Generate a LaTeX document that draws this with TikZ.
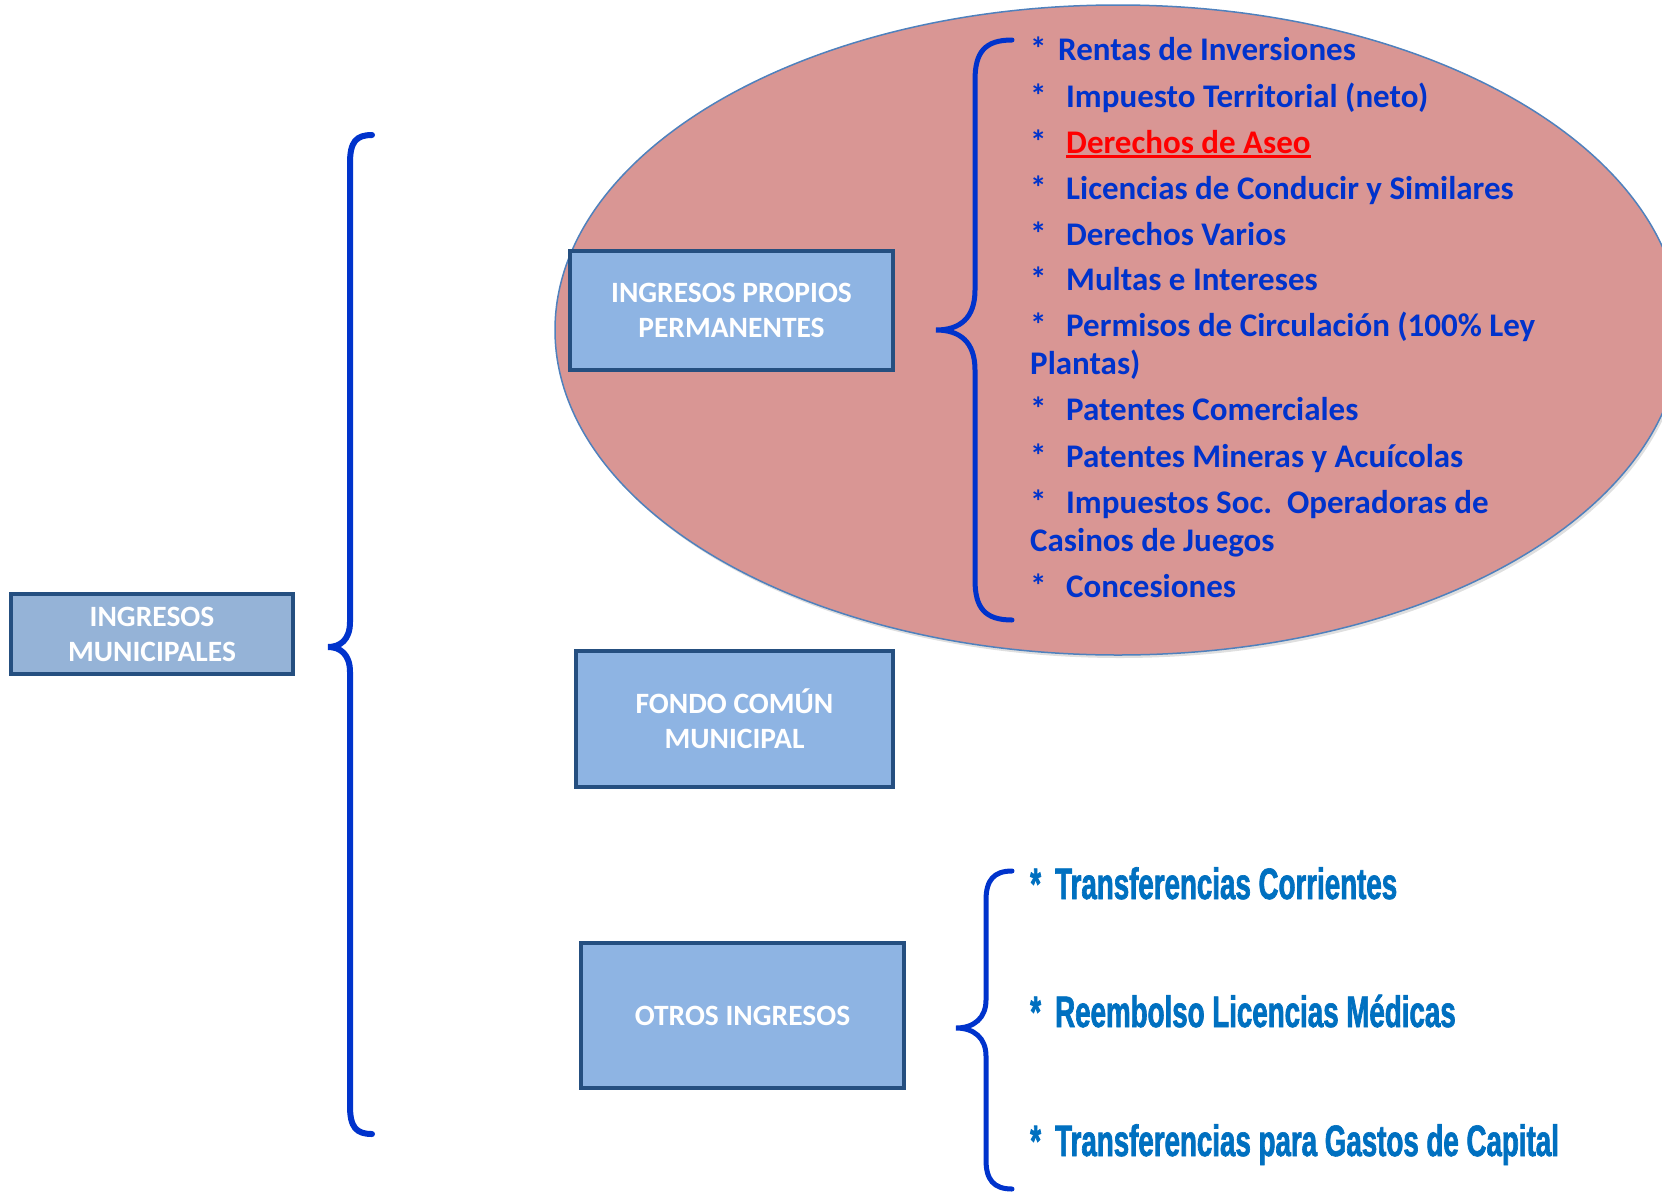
\documentclass[tikz,border=0pt]{standalone}
\usepackage{fontspec}
\setmainfont{Carlito}
\newfontfamily\angosta[FakeStretch=0.63, FakeBold=1.5]{Liberation Sans}
\usetikzlibrary{shadows}
\definecolor{cajafondo}{HTML}{8EB4E3}
\definecolor{cajagris}{HTML}{95B3D7}
\definecolor{cajaborde}{HTML}{254F80}
\definecolor{elipse}{HTML}{D99694}
\definecolor{elipseborde}{HTML}{4F81BD}
\definecolor{azul}{HTML}{0033CC}
\definecolor{azulclaro}{HTML}{0070C0}
\newcommand{\vineta}{\makebox[36pt][l]{*}}
\newcommand{\subrayado}[1]{\setbox0\hbox{#1}\rlap{\rule[-4.5pt]{\wd0}{2.6pt}}\box0}
\tikzset{
    caja/.style={draw=cajaborde, line width=3.5pt, fill=cajafondo, text=white, align=center,
        font=\fontsize{29.5}{35}\selectfont\bfseries},
    llave/.style={draw=azul, line width=5pt, line cap=round},
    item/.style={anchor=base west, inner sep=0pt, text=azul, font=\fontsize{33}{38}\selectfont\bfseries},
    otro/.style={anchor=base west, inner sep=0pt, text=azulclaro, font=\angosta\fontsize{44}{50}\selectfont\bfseries},
}

\begin{document}
\begin{tikzpicture}[x=1pt, y=-1pt]
    \useasboundingbox (0,0) rectangle (1662,1194);
    \fill[elipse, draw=elipseborde, line width=1.5pt, drop shadow={shadow xshift=2pt, shadow yshift=-3pt, opacity=.25}]
        (1118,330) ellipse [x radius=563pt, y radius=325pt];

    \node[caja, fill=cajagris, minimum width=282pt, minimum height=80pt] (ingmun) at (152,634) {INGRESOS\\MUNICIPALES};
    \node[caja, minimum width=323pt, minimum height=119pt] (ingprop) at (731.5,310.5) {INGRESOS PROPIOS\\PERMANENTES};
    \node[caja, minimum width=317pt, minimum height=136pt] (fondo) at (734.5,719) {FONDO COMÚN\\MUNICIPAL};
    \node[caja, minimum width=323pt, minimum height=145pt] (otros) at (742.5,1015.5) {OTROS INGRESOS};

    \draw[llave, line width=6pt] (372,135) .. controls (356,135) and (350,142) .. (350,163) -- (350,622)
        .. controls (350,640) and (340,647) .. (328,647) .. controls (340,647) and (350,654) .. (350,672)
        -- (350,1106) .. controls (350,1127) and (356,1134) .. (372,1134);
    \draw[llave] (1012,40) .. controls (985,40) and (975,52) .. (975,80) -- (975,290)
        .. controls (975,318) and (960,330) .. (936,330) .. controls (960,330) and (975,342) .. (975,370)
        -- (975,580) .. controls (975,608) and (985,620) .. (1012,620);
    \draw[llave] (1012,871) .. controls (994,871) and (986,880) .. (986,900) -- (986,1000)
        .. controls (986,1018) and (974,1028) .. (956,1028) .. controls (974,1028) and (986,1038) .. (986,1056)
        -- (986,1160) .. controls (986,1180) and (994,1189) .. (1012,1189);

    \node[item] (i1) at (1030,60) {\makebox[28pt][l]{*}Rentas de Inversiones};
    \node[item] (i2) at (1030,107) {\vineta Impuesto Territorial (neto)};
    \node[item] (i3) at (1030,153) {\vineta \textcolor{red}{\subrayado{Derechos de Aseo}}};
    \node[item] (i4) at (1030,199) {\vineta Licencias de Conducir y Similares};
    \node[item] (i5) at (1030,245) {\vineta Derechos Varios};
    \node[item] (i6) at (1030,290) {\vineta Multas e Intereses};
    \node[item] (i7) at (1030,336) {\vineta Permisos de Circulación (100\% Ley};
    \node[item] (i7b) at (1030,374) {Plantas)};
    \node[item] (i8) at (1030,420) {\vineta Patentes Comerciales};
    \node[item] (i9) at (1030,467) {\vineta Patentes Mineras y Acuícolas};
    \node[item] (i10) at (1030,513) {\vineta Impuestos Soc.\ \ Operadoras de};
    \node[item] (i10b) at (1030,551) {Casinos de Juegos};
    \node[item] (i11) at (1030,597) {\vineta Concesiones};

    \node[otro] (o1) at (1030,899) {\makebox[25pt][l]{*}Transferencias Corrientes};
    \node[otro] (o2) at (1030,1027) {\makebox[25pt][l]{*}Reembolso Licencias Médicas};
    \node[otro] (o3) at (1030,1156) {\makebox[25pt][l]{*}Transferencias para Gastos de Capital};
\end{tikzpicture}
\end{document}
